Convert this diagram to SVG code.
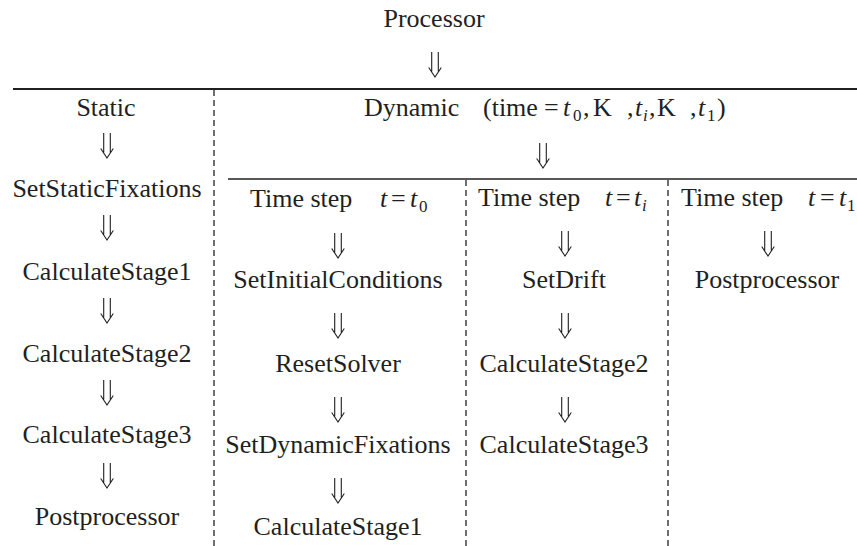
<svg xmlns="http://www.w3.org/2000/svg" xmlns:xlink="http://www.w3.org/1999/xlink" width="857" height="546" viewBox="0 0 857 546">
<style>
text{font-family:"Liberation Serif","Times New Roman",serif;font-size:26px;fill:#231f20}
.c{text-anchor:middle}
.i{font-style:italic}
.s{font-size:17px}
.solid{stroke:#231f20;fill:none}
.dash{stroke:#231f20;stroke-width:1.3;stroke-dasharray:6 4;fill:none}
.arr{stroke:#231f20;stroke-width:1.1;fill:none}
</style>
<defs>
<path id="dar" d="M-3.3,0V19.5M3.3,0V19.5M-6.3,15.5L0,25L6.3,15.5"/>
</defs>
<rect width="857" height="546" fill="#fff"/>
<g id="frame">
<line class="solid" x1="13" y1="89" x2="857" y2="89" stroke-width="2"/>
<line class="solid" x1="228" y1="179" x2="857" y2="179" stroke-width="1.6"/>
<line class="dash" x1="214" y1="90" x2="214" y2="546"/>
<line class="dash" x1="466" y1="180" x2="466" y2="546"/>
<line class="dash" x1="668" y1="180" x2="668" y2="546"/>
</g>
<g id="connectors" class="arr">
<use xlink:href="#dar" href="#dar" x="435" y="52"/>
<use xlink:href="#dar" href="#dar" x="107" y="133"/>
<use xlink:href="#dar" href="#dar" x="107" y="215"/>
<use xlink:href="#dar" href="#dar" x="107" y="298"/>
<use xlink:href="#dar" href="#dar" x="107" y="380"/>
<use xlink:href="#dar" href="#dar" x="107" y="463"/>
<use xlink:href="#dar" href="#dar" x="543" y="143"/>
<use xlink:href="#dar" href="#dar" x="338" y="233"/>
<use xlink:href="#dar" href="#dar" x="338" y="313"/>
<use xlink:href="#dar" href="#dar" x="338" y="397"/>
<use xlink:href="#dar" href="#dar" x="338" y="478"/>
<use xlink:href="#dar" href="#dar" x="565" y="231"/>
<use xlink:href="#dar" href="#dar" x="565" y="313"/>
<use xlink:href="#dar" href="#dar" x="565" y="397"/>
<use xlink:href="#dar" href="#dar" x="768" y="231"/>
</g>
<g id="processor"><text class="c" x="434" y="27">Processor</text></g>
<g id="static"><text class="c" x="106" y="116">Static</text></g>
<g id="dynamic"><text y="116"><tspan x="364">Dynamic</tspan><tspan x="483">(time</tspan><tspan x="544">=</tspan><tspan x="563" class="i">t</tspan><tspan x="573" dy="5" class="s">0</tspan><tspan x="583" dy="-5">,</tspan><tspan x="593">K</tspan><tspan x="627">,</tspan><tspan x="635" class="i">t</tspan><tspan x="643" dy="5" class="s i">i</tspan><tspan x="649" dy="-5">,</tspan><tspan x="657">K</tspan><tspan x="690">,</tspan><tspan x="698" class="i">t</tspan><tspan x="707" dy="5" class="s">1</tspan><tspan x="717" dy="-5">)</tspan></text></g>
<g id="s-setstaticfixations"><text class="c" x="107" y="197">SetStaticFixations</text></g>
<g id="s-calculatestage1"><text class="c" x="107" y="280">CalculateStage1</text></g>
<g id="s-calculatestage2"><text class="c" x="107" y="362">CalculateStage2</text></g>
<g id="s-calculatestage3"><text class="c" x="107" y="443">CalculateStage3</text></g>
<g id="s-postprocessor"><text class="c" x="107" y="525">Postprocessor</text></g>
<g id="t0-header"><text y="207"><tspan x="250">Time step</tspan><tspan x="380" class="i">t</tspan><tspan x="391">=</tspan><tspan x="410" class="i">t</tspan><tspan x="419" dy="5" class="s">0</tspan></text></g>
<g id="t0-setinitialconditions"><text class="c" x="338" y="288">SetInitialConditions</text></g>
<g id="t0-resetsolver"><text class="c" x="338" y="372">ResetSolver</text></g>
<g id="t0-setdynamicfixations"><text class="c" x="338" y="453">SetDynamicFixations</text></g>
<g id="t0-calculatestage1"><text class="c" x="338" y="535">CalculateStage1</text></g>
<g id="ti-header"><text y="206"><tspan x="478">Time step</tspan><tspan x="605" class="i">t</tspan><tspan x="616">=</tspan><tspan x="634" class="i">t</tspan><tspan x="642" dy="5" class="s i">i</tspan></text></g>
<g id="ti-setdrift"><text class="c" x="564" y="288">SetDrift</text></g>
<g id="ti-calculatestage2"><text class="c" x="564" y="372">CalculateStage2</text></g>
<g id="ti-calculatestage3"><text class="c" x="564" y="453">CalculateStage3</text></g>
<g id="t1-header"><text y="206"><tspan x="681">Time step</tspan><tspan x="808" class="i">t</tspan><tspan x="820">=</tspan><tspan x="839" class="i">t</tspan><tspan x="847" dy="5" class="s">1</tspan></text></g>
<g id="t1-postprocessor"><text class="c" x="767" y="288">Postprocessor</text></g>
</svg>
